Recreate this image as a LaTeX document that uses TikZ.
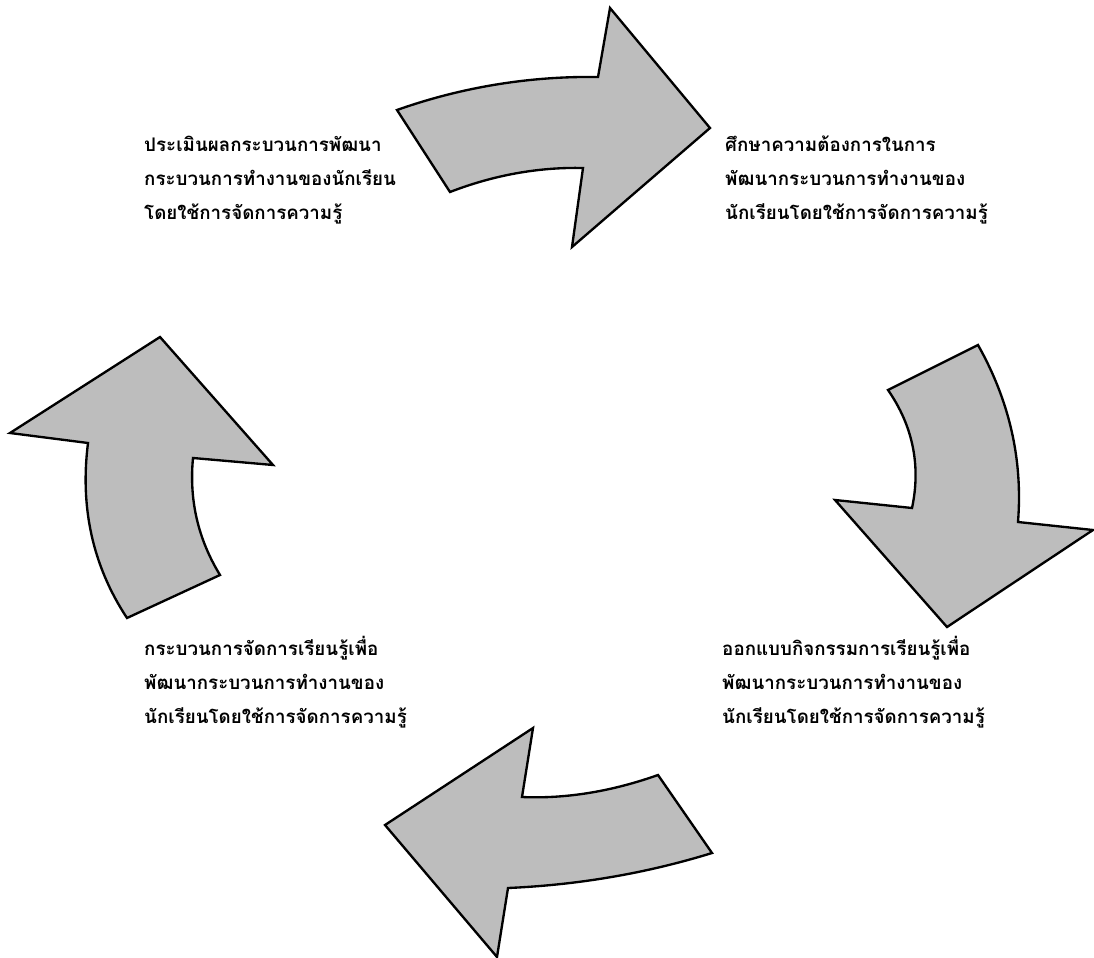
\documentclass[tikz,border=0pt]{standalone}
\usepackage{fontspec}
\newfontfamily\thaifont[Script=Thai]{Loma}
\usepackage{tikz}
\definecolor{arrowgray}{gray}{0.74}

\begin{document}
\begin{tikzpicture}[x=0.03cm,y=-0.03cm,
	bigarrow/.style={draw=black,line width=2pt,line join=miter,fill=arrowgray},
	steptext/.style={anchor=north west,inner sep=0pt,align=left,
		font=\thaifont\bfseries\fontsize{16}{29}\selectfont}]
	\useasboundingbox (0,0) rectangle (1094,958);

	%ARROWS
	\draw[bigarrow] (397,110) .. controls (462,87) and (530,76) .. (598,77)
		-- (610,8) -- (710,128) -- (572,247) -- (583,168)
		.. controls (539,167) and (494,175) .. (450,192) -- cycle;
	\draw[bigarrow] (888,390) -- (978,345)
		.. controls (1009,400) and (1023,459) .. (1018,522)
		-- (1093,530) -- (947,627) -- (835,500) -- (912,508)
		.. controls (921,466) and (913,426) .. cycle;
	\draw[bigarrow] (385,825) -- (533,728) -- (522,797)
		.. controls (567,799) and (613,791) .. (658,775)
		-- (712,853) .. controls (644,874) and (576,885) .. (508,888)
		-- (497,957) -- cycle;
	\draw[bigarrow] (160,337) -- (273,465) -- (193,458)
		.. controls (189,500) and (198,539) .. (220,575)
		-- (127,618) .. controls (92,565) and (80,506) .. (88,443)
		-- (10,433) -- cycle;

	%LABELS
	\node[steptext] (evaluate) at (144,136) {ประเมินผลกระบวนการพัฒนา\\กระบวนการทำงานของนักเรียน\\โดยใช้การจัดการความรู้};
	\node[steptext] (study) at (725,136) {ศึกษาความต้องการในการ\\พัฒนากระบวนการทำงานของ\\นักเรียนโดยใช้การจัดการความรู้};
	\node[steptext] (design) at (722,636) {ออกแบบกิจกรรมการเรียนรู้เพื่อ\\พัฒนากระบวนการทำงานของ\\นักเรียนโดยใช้การจัดการความรู้};
	\node[steptext] (learn) at (144,636) {กระบวนการจัดการเรียนรู้เพื่อ\\พัฒนากระบวนการทำงานของ\\นักเรียนโดยใช้การจัดการความรู้};
\end{tikzpicture}
\end{document}
